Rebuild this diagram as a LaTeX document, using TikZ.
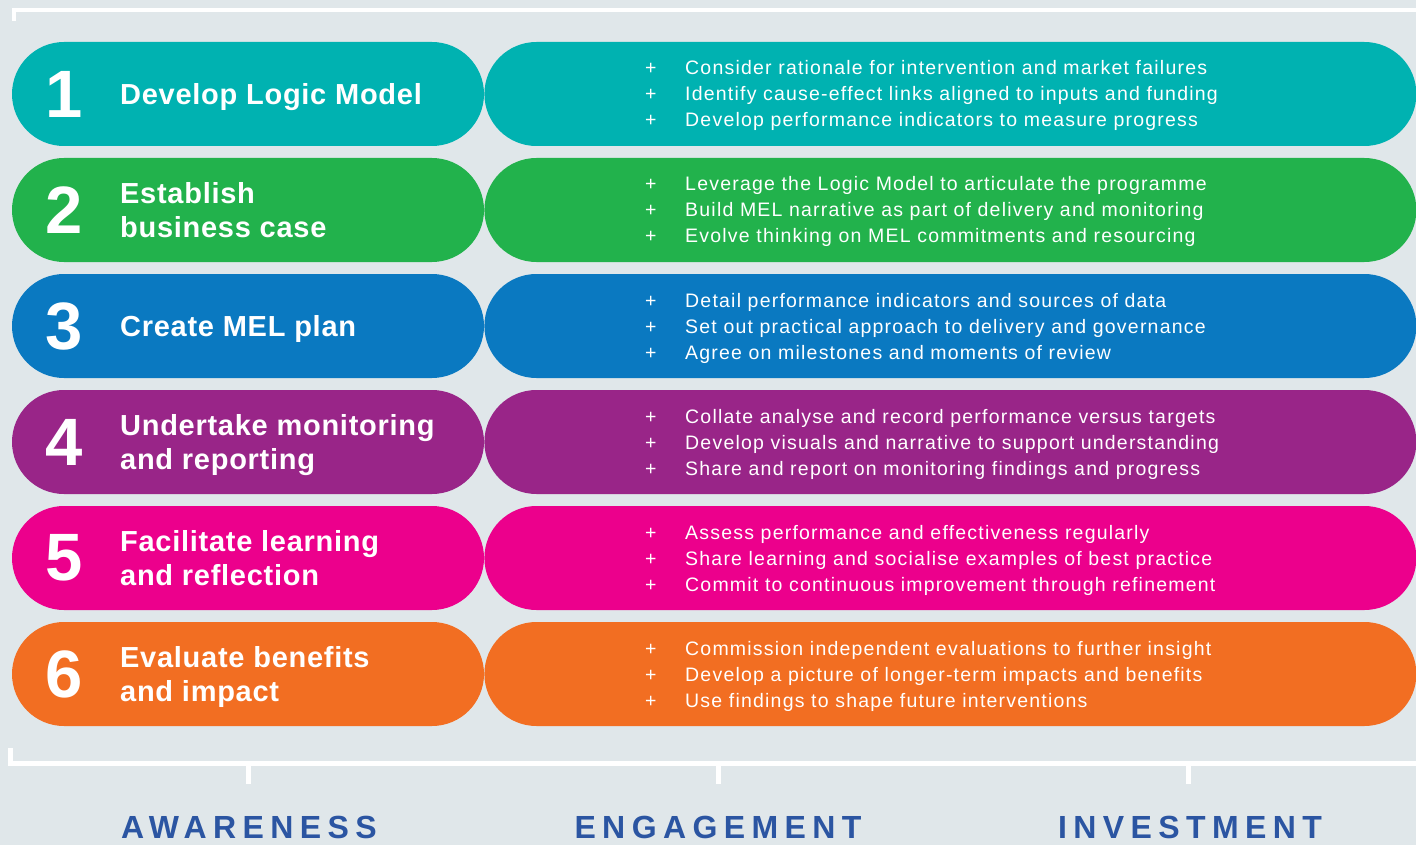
\documentclass[tikz,border=0pt]{standalone}
\usepackage{fontspec}
\setmainfont{Liberation Sans}
\newfontfamily\titlefont[LetterSpace=2.5]{Liberation Sans}
\newfontfamily\itemfont[LetterSpace=6.2]{Liberation Sans}
\newfontfamily\stagefont[LetterSpace=20]{Liberation Sans}
\usetikzlibrary{positioning}
\definecolor{paper}{HTML}{E0E7EA}
\definecolor{stepteal}{HTML}{00B2B1}
\definecolor{stepgreen}{HTML}{22B24C}
\definecolor{stepblue}{HTML}{0A79C1}
\definecolor{steppurple}{HTML}{992588}
\definecolor{steppink}{HTML}{EC008C}
\definecolor{steporange}{HTML}{F26E22}
\definecolor{stageblue}{HTML}{2B55A2}

\newcommand{\plusitem}[1]{\makebox[40pt][l]{+}#1}

\tikzset{
  pill/.style={rounded corners=52pt,minimum height=104pt,inner sep=0pt},
  stepleft/.style={pill,minimum width=472pt},
  stepright/.style={pill,minimum width=932pt},
  stepnum/.style={text=white,inner sep=0pt,font=\fontsize{67}{67}\selectfont\bfseries},
  % box runs from cap top of the first line to baseline of the last
  steptitle/.style={anchor=west,align=left,text=white,inner sep=0pt,
    text height=21pt,text depth=0pt,font=\titlefont\fontsize{29}{34}\selectfont\bfseries},
  twolines/.style={text height=55pt},
  steplist/.style={anchor=west,align=left,text=white,inner sep=0pt,
    text height=66pt,text depth=0pt,font=\itemfont\fontsize{19.5}{26}\selectfont},
  stage/.style={text=stageblue,inner sep=0pt,text height=23pt,text depth=0pt,
    font=\stagefont\fontsize{32}{32}\selectfont\bfseries},
  axis/.style={draw=white,line width=5pt}
}

\begin{document}
\begin{tikzpicture}[x=1pt,y=-1pt]
  \fill[paper] (0,0) rectangle (1416,845);
  \useasboundingbox (0,0) rectangle (1416,845);

  % frame lines top and bottom
  \coordinate (topL) at (14,21);
  \coordinate (topR) at (1416,10);
  \draw[axis,line width=4.5pt] (topL) |- (topR);
  \coordinate (botL) at (10,748);
  \coordinate (botR) at (1416,763);
  \draw[axis] (botL) |- (botR);

  % step 1
  \node[stepleft,fill=stepteal] (p1) at (248,94) {};
  \node[stepright,fill=stepteal,right=0pt of p1] (q1) {};
  \node[stepnum] (n1) at (64,94) {1};
  \node[steptitle] (t1) at (120,94) {Develop Logic Model};
  \node[steplist] (l1) at (645,94) {\plusitem{Consider rationale for intervention and market failures}\\
    \plusitem{Identify cause-effect links aligned to inputs and funding}\\
    \plusitem{Develop performance indicators to measure progress}};

  % step 2
  \node[stepleft,fill=stepgreen] (p2) at (248,210) {};
  \node[stepright,fill=stepgreen,right=0pt of p2] (q2) {};
  \node[stepnum] (n2) at (64,210) {2};
  \node[steptitle,twolines] (t2) at (120,210) {Establish\\business case};
  \node[steplist] (l2) at (645,210) {\plusitem{Leverage the Logic Model to articulate the programme}\\
    \plusitem{Build MEL narrative as part of delivery and monitoring}\\
    \plusitem{Evolve thinking on MEL commitments and resourcing}};

  % step 3
  \node[stepleft,fill=stepblue] (p3) at (248,326) {};
  \node[stepright,fill=stepblue,right=0pt of p3] (q3) {};
  \node[stepnum] (n3) at (64,326) {3};
  \node[steptitle] (t3) at (120,326) {Create MEL plan};
  \node[steplist] (l3) at (645,326) {\plusitem{Detail performance indicators and sources of data}\\
    \plusitem{Set out practical approach to delivery and governance}\\
    \plusitem{Agree on milestones and moments of review}};

  % step 4
  \node[stepleft,fill=steppurple] (p4) at (248,442) {};
  \node[stepright,fill=steppurple,right=0pt of p4] (q4) {};
  \node[stepnum] (n4) at (64,442) {4};
  \node[steptitle,twolines] (t4) at (120,442) {Undertake monitoring\\and reporting};
  \node[steplist] (l4) at (645,442) {\plusitem{Collate analyse and record performance versus targets}\\
    \plusitem{Develop visuals and narrative to support understanding}\\
    \plusitem{Share and report on monitoring findings and progress}};

  % step 5
  \node[stepleft,fill=steppink] (p5) at (248,558) {};
  \node[stepright,fill=steppink,right=0pt of p5] (q5) {};
  \node[stepnum] (n5) at (64,558) {5};
  \node[steptitle,twolines] (t5) at (120,558) {Facilitate learning\\and reflection};
  \node[steplist] (l5) at (645,558) {\plusitem{Assess performance and effectiveness regularly}\\
    \plusitem{Share learning and socialise examples of best practice}\\
    \plusitem{Commit to continuous improvement through refinement}};

  % step 6
  \node[stepleft,fill=steporange] (p6) at (248,674) {};
  \node[stepright,fill=steporange,right=0pt of p6] (q6) {};
  \node[stepnum] (n6) at (64,674) {6};
  \node[steptitle,twolines] (t6) at (120,674) {Evaluate benefits\\and impact};
  \node[steplist] (l6) at (645,674) {\plusitem{Commission independent evaluations to further insight}\\
    \plusitem{Develop a picture of longer-term impacts and benefits}\\
    \plusitem{Use findings to shape future interventions}};

  % stages under the axis
  \node[stage] (aware) at (249,826.5) {AWARENESS};
  \node[stage] (engage) at (718,826.5) {ENGAGEMENT};
  \node[stage] (invest) at (1190,826.5) {INVESTMENT};
  \draw[axis] (248,763) -- (248,784);
  \draw[axis] (718,763) -- (718,784);
  \draw[axis] (1188,763) -- (1188,784);
\end{tikzpicture}
\end{document}
